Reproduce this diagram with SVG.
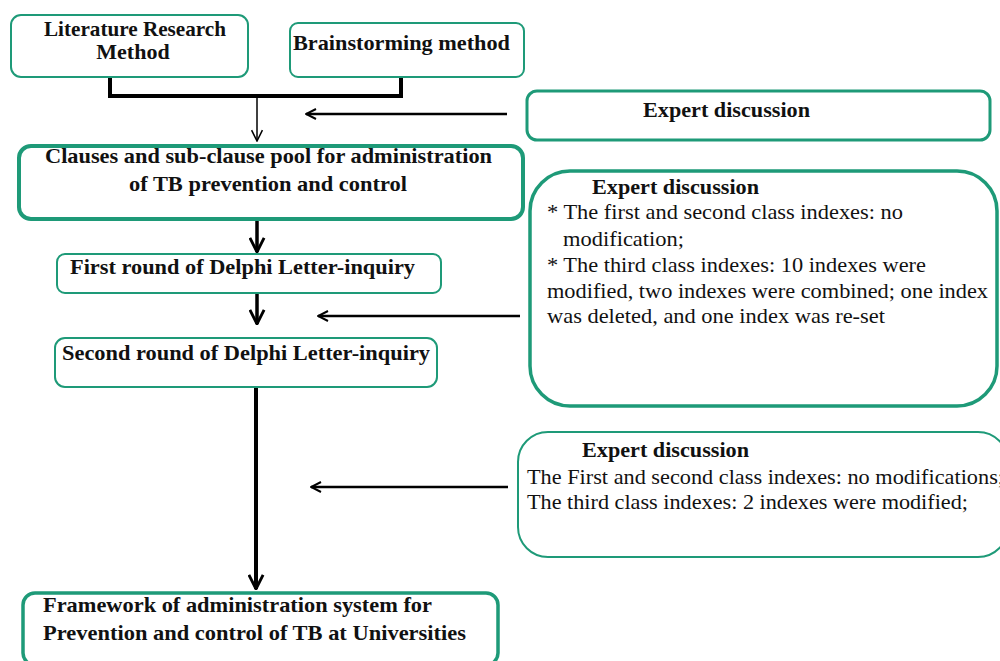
<svg xmlns="http://www.w3.org/2000/svg" width="1000" height="661" viewBox="0 0 1000 661">
<defs>
<style>
.box{fill:#fff;stroke:#1e9a78}
.b{font-weight:bold;font-size:22px;fill:#111}
.r{font-size:21px;fill:#111}
.c{stroke:#000;fill:none}
</style>
<marker id="ah" viewBox="0 0 12 12" refX="11" refY="6" markerWidth="12" markerHeight="12" markerUnits="userSpaceOnUse" orient="auto"><path d="M1,1 L11,6 L1,11" fill="none" stroke="#000" stroke-width="2"/></marker>
<marker id="ahs" viewBox="0 0 12 12" refX="11" refY="6" markerWidth="13" markerHeight="13" markerUnits="userSpaceOnUse" orient="auto"><path d="M1,1 L11,6 L1,11" fill="none" stroke="#000" stroke-width="1.4"/></marker>
<marker id="ahb" viewBox="0 0 12 12" refX="11" refY="6" markerWidth="17" markerHeight="17" markerUnits="userSpaceOnUse" orient="auto"><path d="M1,1 L11,6 L1,11" fill="none" stroke="#000" stroke-width="2"/></marker>
</defs>
<rect width="1000" height="661" fill="#fff"/>
<g id="connectors">
<polyline class="c" points="110,77 110,96 401,96 401,77" stroke-width="4"/>
<line class="c" x1="257" y1="96" x2="257" y2="141" stroke-width="1.5" marker-end="url(#ahs)"/>
<line class="c" x1="507" y1="114" x2="306" y2="114" stroke-width="2.5" marker-end="url(#ah)"/>
<line class="c" x1="257" y1="220" x2="257" y2="252" stroke-width="3.5" marker-end="url(#ahb)"/>
<line class="c" x1="257" y1="293" x2="257" y2="324" stroke-width="3.5" marker-end="url(#ahb)"/>
<line class="c" x1="520" y1="316" x2="318" y2="316" stroke-width="2.5" marker-end="url(#ah)"/>
<line class="c" x1="256" y1="387" x2="256" y2="589" stroke-width="4" marker-end="url(#ahb)"/>
<line class="c" x1="508" y1="487" x2="311" y2="487" stroke-width="2.5" marker-end="url(#ah)"/>
</g>
<g font-family="'Liberation Serif', 'Times New Roman', Times, serif">
<g id="n-literature">
<rect class="box" x="11" y="15" width="237" height="62" rx="10" stroke-width="2"/>
<text class="b" x="44" y="36" textLength="182" lengthAdjust="spacingAndGlyphs">Literature Research</text>
<text class="b" x="133" y="59" text-anchor="middle">Method</text>
</g>
<g id="n-brainstorming">
<rect class="box" x="290" y="23" width="234" height="54" rx="8" stroke-width="2"/>
<text class="b" x="293" y="50" textLength="217" lengthAdjust="spacingAndGlyphs">Brainstorming method</text>
</g>
<g id="n-expert1">
<rect class="box" x="527" y="91" width="463" height="49" rx="10" stroke-width="3"/>
<text class="b" x="643" y="117" textLength="167" lengthAdjust="spacingAndGlyphs">Expert discussion</text>
</g>
<g id="n-pool">
<rect class="box" x="19" y="146" width="504" height="73" rx="12" stroke-width="4"/>
<text class="b" x="45" y="163" textLength="447" lengthAdjust="spacingAndGlyphs">Clauses and sub-clause pool for administration</text>
<text class="b" x="129" y="191" textLength="278" lengthAdjust="spacingAndGlyphs">of TB prevention and control</text>
</g>
<g id="n-expert2">
<rect class="box" x="530" y="171" width="467" height="235" rx="40" stroke-width="3.5"/>
<text class="b" x="592" y="194" textLength="167" lengthAdjust="spacingAndGlyphs">Expert discussion</text>
<text class="r" x="547" y="219" textLength="356" lengthAdjust="spacingAndGlyphs">* The first and second class indexes: no</text>
<text class="r" x="563" y="246" textLength="121" lengthAdjust="spacingAndGlyphs">modification;</text>
<text class="r" x="547" y="272" textLength="379" lengthAdjust="spacingAndGlyphs">* The third class indexes: 10 indexes were</text>
<text class="r" x="547" y="298" textLength="441" lengthAdjust="spacingAndGlyphs">modified, two indexes were combined; one index</text>
<text class="r" x="547" y="323" textLength="338" lengthAdjust="spacingAndGlyphs">was deleted, and one index was re-set</text>
</g>
<g id="n-round1">
<rect class="box" x="57" y="254" width="384" height="39" rx="8" stroke-width="2"/>
<text class="b" x="70" y="274" textLength="345" lengthAdjust="spacingAndGlyphs">First round of Delphi Letter-inquiry</text>
</g>
<g id="n-round2">
<rect class="box" x="55" y="338" width="382" height="49" rx="10" stroke-width="2"/>
<text class="b" x="62" y="360" textLength="368" lengthAdjust="spacingAndGlyphs">Second round of Delphi Letter-inquiry</text>
</g>
<g id="n-expert3">
<rect class="box" x="518" y="432" width="490" height="125" rx="30" stroke-width="2"/>
<text class="b" x="582" y="457" textLength="167" lengthAdjust="spacingAndGlyphs">Expert discussion</text>
<text class="r" x="527" y="484" textLength="477" lengthAdjust="spacingAndGlyphs">The First and second class indexes: no modifications;</text>
<text class="r" x="527" y="509" textLength="441" lengthAdjust="spacingAndGlyphs">The third class indexes: 2 indexes were modified;</text>
</g>
<g id="n-framework">
<rect class="box" x="23" y="593" width="475" height="72" rx="12" stroke-width="3.5"/>
<text class="b" x="43" y="612" textLength="389" lengthAdjust="spacingAndGlyphs">Framework of administration system for</text>
<text class="b" x="43" y="640" textLength="423" lengthAdjust="spacingAndGlyphs">Prevention and control of TB at Universities</text>
</g>
</g>
</svg>
